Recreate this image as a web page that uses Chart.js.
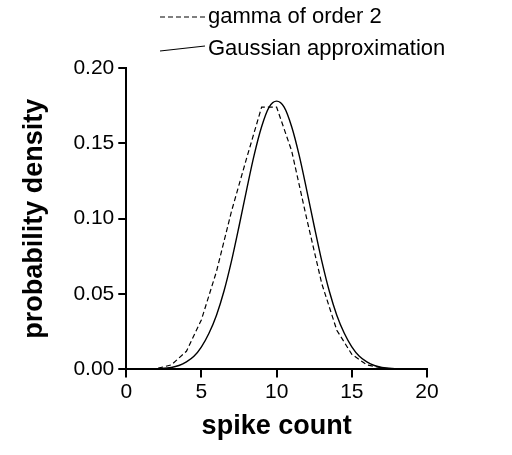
<!DOCTYPE html>
<html><head><meta charset="utf-8">
<script src="https://cdn.jsdelivr.net/npm/chart.js@4"></script>
<style>html,body{margin:0;padding:0;background:#fff}#wrap{width:512px;height:455px}</style>
</head><body><div id="wrap"><canvas id="c"></canvas></div>
<script>
const gammaX = [0,1,2,3,4,5,6,7,8,9,10,11,12,13,14,15,16,17,18,19,20];
const gammaY = [0,0,0.0005,0.003,0.012,0.033,0.065,0.105,0.140,0.174,0.174,0.145,0.100,0.057,0.026,0.010,0.003,0.001,0,0,0];
const gaussX = [2,3,3.5,4,4.5,5,5.5,6,6.5,7,7.5,8,8.5,9,9.5,10,10.5,11,11.5,12,12.5,13,13.5,14,14.5,15,15.5,16,16.5,17,18];
const gaussY = [0.0003,0.0013,0.0026,0.005,0.0087,0.015,0.024,0.036,0.052,0.072,0.095,0.119,0.142,0.161,0.174,0.178,0.174,0.161,0.142,0.119,0.095,0.072,0.052,0.036,0.024,0.015,0.0087,0.005,0.0026,0.0013,0.0003];
const xTicks = [0,5,10,15,20];
const yTicks = [0,0.05,0.10,0.15,0.20];
const legendLabels = ['gamma of order 2','Gaussian approximation'];

const font = 'Liberation Sans, Arial, sans-serif';
const legendPlugin = {
  id: 'topLegend',
  afterDraw(chart) {
    const ctx = chart.ctx;
    ctx.save();
    ctx.strokeStyle = '#000'; ctx.lineWidth = 1.2;
    ctx.setLineDash([5, 3]);
    ctx.beginPath(); ctx.moveTo(160, 17); ctx.lineTo(205, 17); ctx.stroke();
    ctx.setLineDash([]);
    ctx.beginPath(); ctx.moveTo(160, 51); ctx.lineTo(205, 46); ctx.stroke();
    ctx.fillStyle = '#000';
    ctx.font = '22px ' + font;
    ctx.textBaseline = 'middle';
    ctx.fillText(legendLabels[0], 208, 17);
    ctx.fillText(legendLabels[1], 208, 49);
    ctx.restore();
  }
};

new Chart(document.getElementById('c'), {
  type: 'line',
  data: {
    datasets: [{
      label: legendLabels[0],
      data: gammaX.map((x, i) => ({x: x, y: gammaY[i]})),
      borderColor: '#000', borderWidth: 1.2, borderDash: [5, 3],
      pointRadius: 0, tension: 0, fill: false
    }, {
      label: legendLabels[1],
      data: gaussX.map((x, i) => ({x: x, y: gaussY[i]})),
      borderColor: '#000', borderWidth: 1.4,
      pointRadius: 0, tension: 0.4, cubicInterpolationMode: 'monotone', fill: false
    }]
  },
  options: {
    responsive: true, maintainAspectRatio: false, animation: false,
    layout: {padding: {top: 68, right: 85, left: 14, bottom: 8}},
    plugins: {legend: {display: false}, tooltip: {enabled: false}},
    scales: {
      x: {
        type: 'linear', min: 0, max: 20,
        afterBuildTicks: a => { a.ticks = xTicks.map(v => ({value: v})); },
        grid: {drawOnChartArea: false, tickLength: 8, color: '#000', lineWidth: 2},
        border: {color: '#000', width: 2},
        ticks: {color: '#000', font: {family: font, size: 21}, padding: 2, maxRotation: 0},
        title: {display: true, text: 'spike count', color: '#000', font: {family: font, size: 27, weight: 'bold'}, padding: {top: 4}}
      },
      y: {
        min: 0, max: 0.2,
        afterBuildTicks: a => { a.ticks = yTicks.map(v => ({value: v})); },
        grid: {drawOnChartArea: false, tickLength: 8, color: '#000', lineWidth: 2},
        border: {color: '#000', width: 2},
        ticks: {color: '#000', font: {family: font, size: 21}, padding: 4, callback: v => v.toFixed(2)},
        title: {display: true, text: 'probability density', color: '#000', font: {family: font, size: 27, weight: 'bold'}, padding: {bottom: 19}}
      }
    }
  },
  plugins: [legendPlugin]
});
</script></body></html>
